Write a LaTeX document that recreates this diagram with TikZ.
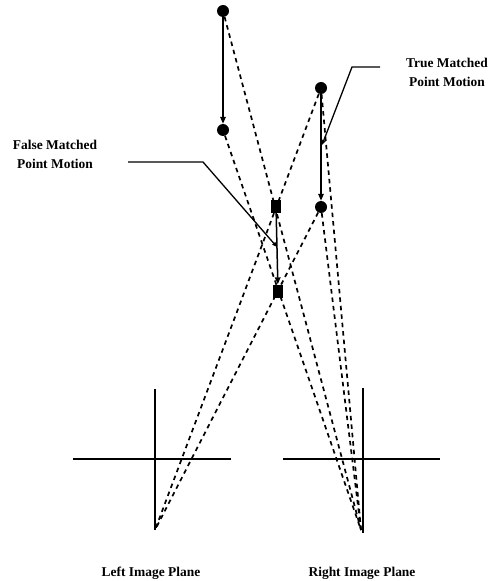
\documentclass[tikz,border=0pt]{standalone}
\usepackage{fontspec}
\setmainfont{Liberation Serif}
\usetikzlibrary{arrows.meta}
\tikzset{
  pt/.style={circle,fill=black,inner sep=0pt,minimum size=12bp},
  sq/.style={rectangle,fill=black,inner sep=0pt,minimum width=10bp,minimum height=13bp},
  ray/.style={line width=1.7bp,dash pattern=on 4.5bp off 4bp},
  motion/.style={line width=1.5bp,-{Triangle[length=7bp,width=5.5bp]}},
  leader/.style={line width=1.3bp,-{Triangle[length=5bp,width=4bp]}},
  plane/.style={line width=1.4bp},
  lbl/.style={font=\fontsize{13.5}{19}\selectfont\bfseries,align=center,inner sep=0pt}
}
\begin{document}
\begin{tikzpicture}[x=1bp,y=-1bp]
\useasboundingbox (0,0) rectangle (496,581);
% cameras
\coordinate (L) at (155,530);
\coordinate (R) at (361,530);
% points
\node[pt] (A) at (223,11) {};
\node[pt] (B) at (223,130) {};
\node[pt] (C) at (321,88) {};
\node[pt] (D) at (321,207) {};
\node[sq] (E) at (276,206) {};
\node[sq] (F) at (278,291) {};
% rays
\draw[ray] (A) -- (R);
\draw[ray] (B) -- (R);
\draw[ray] (C) -- (R);
\draw[ray] (D) -- (R);
\draw[ray] (C) -- (L);
\draw[ray] (D) -- (L);
% motions
\draw[motion] (A) -- (B);
\draw[motion] (C) -- (D);
\draw[motion] (E) -- (F);
% image planes
\coordinate (Lt) at (155,389);
\coordinate (Lb) at (155,530);
\coordinate (Ll) at (73,459);
\coordinate (Lr) at (231,459);
\coordinate (Rt) at (363,388);
\coordinate (Rb) at (363,533);
\coordinate (Rl) at (283,459);
\coordinate (Rr) at (440,459);
\draw[plane] (Lt) -- (Lb);
\draw[plane] (Ll) -- (Lr);
\draw[plane] (Rt) -- (Rb);
\draw[plane] (Rl) -- (Rr);
% leaders
\coordinate (f1) at (128,162);
\coordinate (f2) at (203,162);
\coordinate (f3) at (277,247);
\draw[leader] (f1) -- (f2) -- (f3);
\coordinate (t1) at (380,67);
\coordinate (t2) at (352,67);
\coordinate (t3) at (322,145);
\draw[leader] (t1) -- (t2) -- (t3);
% labels
\node[lbl] (fl) at (55,154) {False Matched\\Point Motion};
\node[lbl] (tl) at (447,72) {True Matched\\Point Motion};
\node[lbl] (ll) at (151,573) {Left Image Plane};
\node[lbl] (rl) at (362,573) {Right Image Plane};
\end{tikzpicture}
\end{document}
